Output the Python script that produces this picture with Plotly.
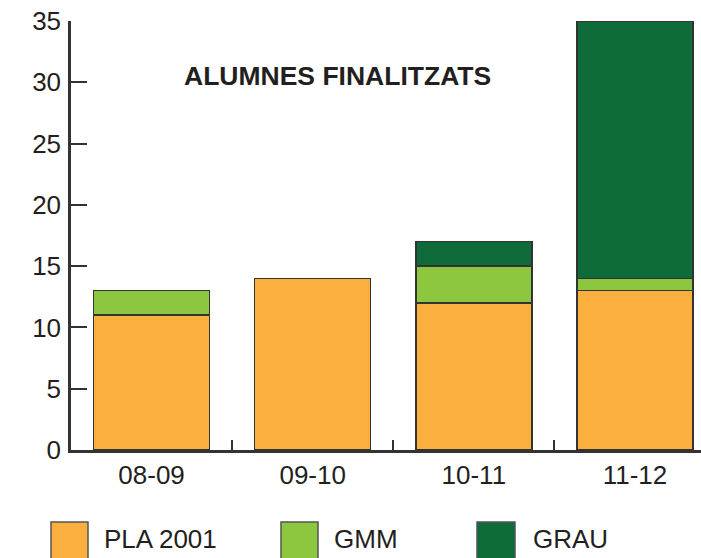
import plotly.graph_objects as go

categories = ["08-09", "09-10", "10-11", "11-12"]
pla2001 = [11, 14, 12, 13]
gmm = [2, 0, 3, 1]
grau = [0, 0, 2, 21]
series_names = ["PLA 2001", "GMM", "GRAU"]
colors = ["#FBAF3F", "#8DC63F", "#0F6B3A"]
y_ticks = [0, 5, 10, 15, 20, 25, 30, 35]

W, H = 701, 558
ML, MR, MT, MB = 71, 0, 21, 108
PW, PH = W - ML - MR, H - MT - MB
FONT = "Liberation Sans, Arial, Helvetica, sans-serif"
TXT = "#231f20"
FS = 26

def px_x(x):
    return (x - ML) / PW

def px_y(y):
    return (H - MB - y) / PH

fig = go.Figure()
for name, vals, col in zip(series_names, [pla2001, gmm, grau], colors):
    fig.add_trace(go.Bar(
        x=categories, y=vals, name=name,
        marker=dict(color=col, line=dict(color="#333333", width=1.5)),
        width=0.72, showlegend=False, cliponaxis=False,
    ))

fig.update_layout(
    width=W, height=H, barmode="stack",
    margin=dict(l=ML, r=MR, t=MT, b=MB, autoexpand=False),
    plot_bgcolor="white", paper_bgcolor="white",
    font=dict(family=FONT, size=FS, color=TXT),
    xaxis=dict(
        type="category", range=[-0.5, 3.41], showgrid=False, zeroline=False,
        showline=True, linecolor="#333333", linewidth=2.5, automargin=False,
        ticks="inside", tickson="boundaries", ticklen=10, tickwidth=2, tickcolor="#333333",
        ticklabelstandoff=0, tickfont=dict(size=FS, color=TXT),
    ),
    yaxis=dict(
        range=[0, 35], tickvals=y_ticks, showgrid=False, zeroline=False,
        showline=True, linecolor="#333333", linewidth=2.5, automargin=False,
        ticks="inside", ticklen=16, tickwidth=2, tickcolor="#333333",
        ticklabelstandoff=2, tickfont=dict(size=FS, color=TXT),
    ),
)

fig.add_annotation(
    text="<b>ALUMNES FINALITZATS</b>", xref="paper", yref="paper",
    x=px_x(337), y=px_y(76), showarrow=False, xanchor="center", yanchor="middle",
    font=dict(family=FONT, size=26.5, color=TXT),
)

# custom legend
legend_sq = [(51, 88), (281, 318), (477, 515)]
legend_tx = [102, 332, 531]
for (x0, x1), tx, name, col in zip(legend_sq, legend_tx, series_names, colors):
    fig.add_shape(type="rect", xref="paper", yref="paper",
                  x0=px_x(x0), x1=px_x(x1), y0=px_y(522), y1=px_y(562),
                  fillcolor=col, line=dict(color="#555555", width=1.5), layer="above")
    fig.add_annotation(text=name, xref="paper", yref="paper",
                       x=px_x(tx), y=px_y(539), showarrow=False,
                       xanchor="left", yanchor="middle",
                       font=dict(family=FONT, size=FS, color=TXT))

fig.write_html(
    "out.html",
    config={"displayModeBar": False},
    post_script="document.body.style.margin='0';document.body.style.overflow='hidden';",
)
